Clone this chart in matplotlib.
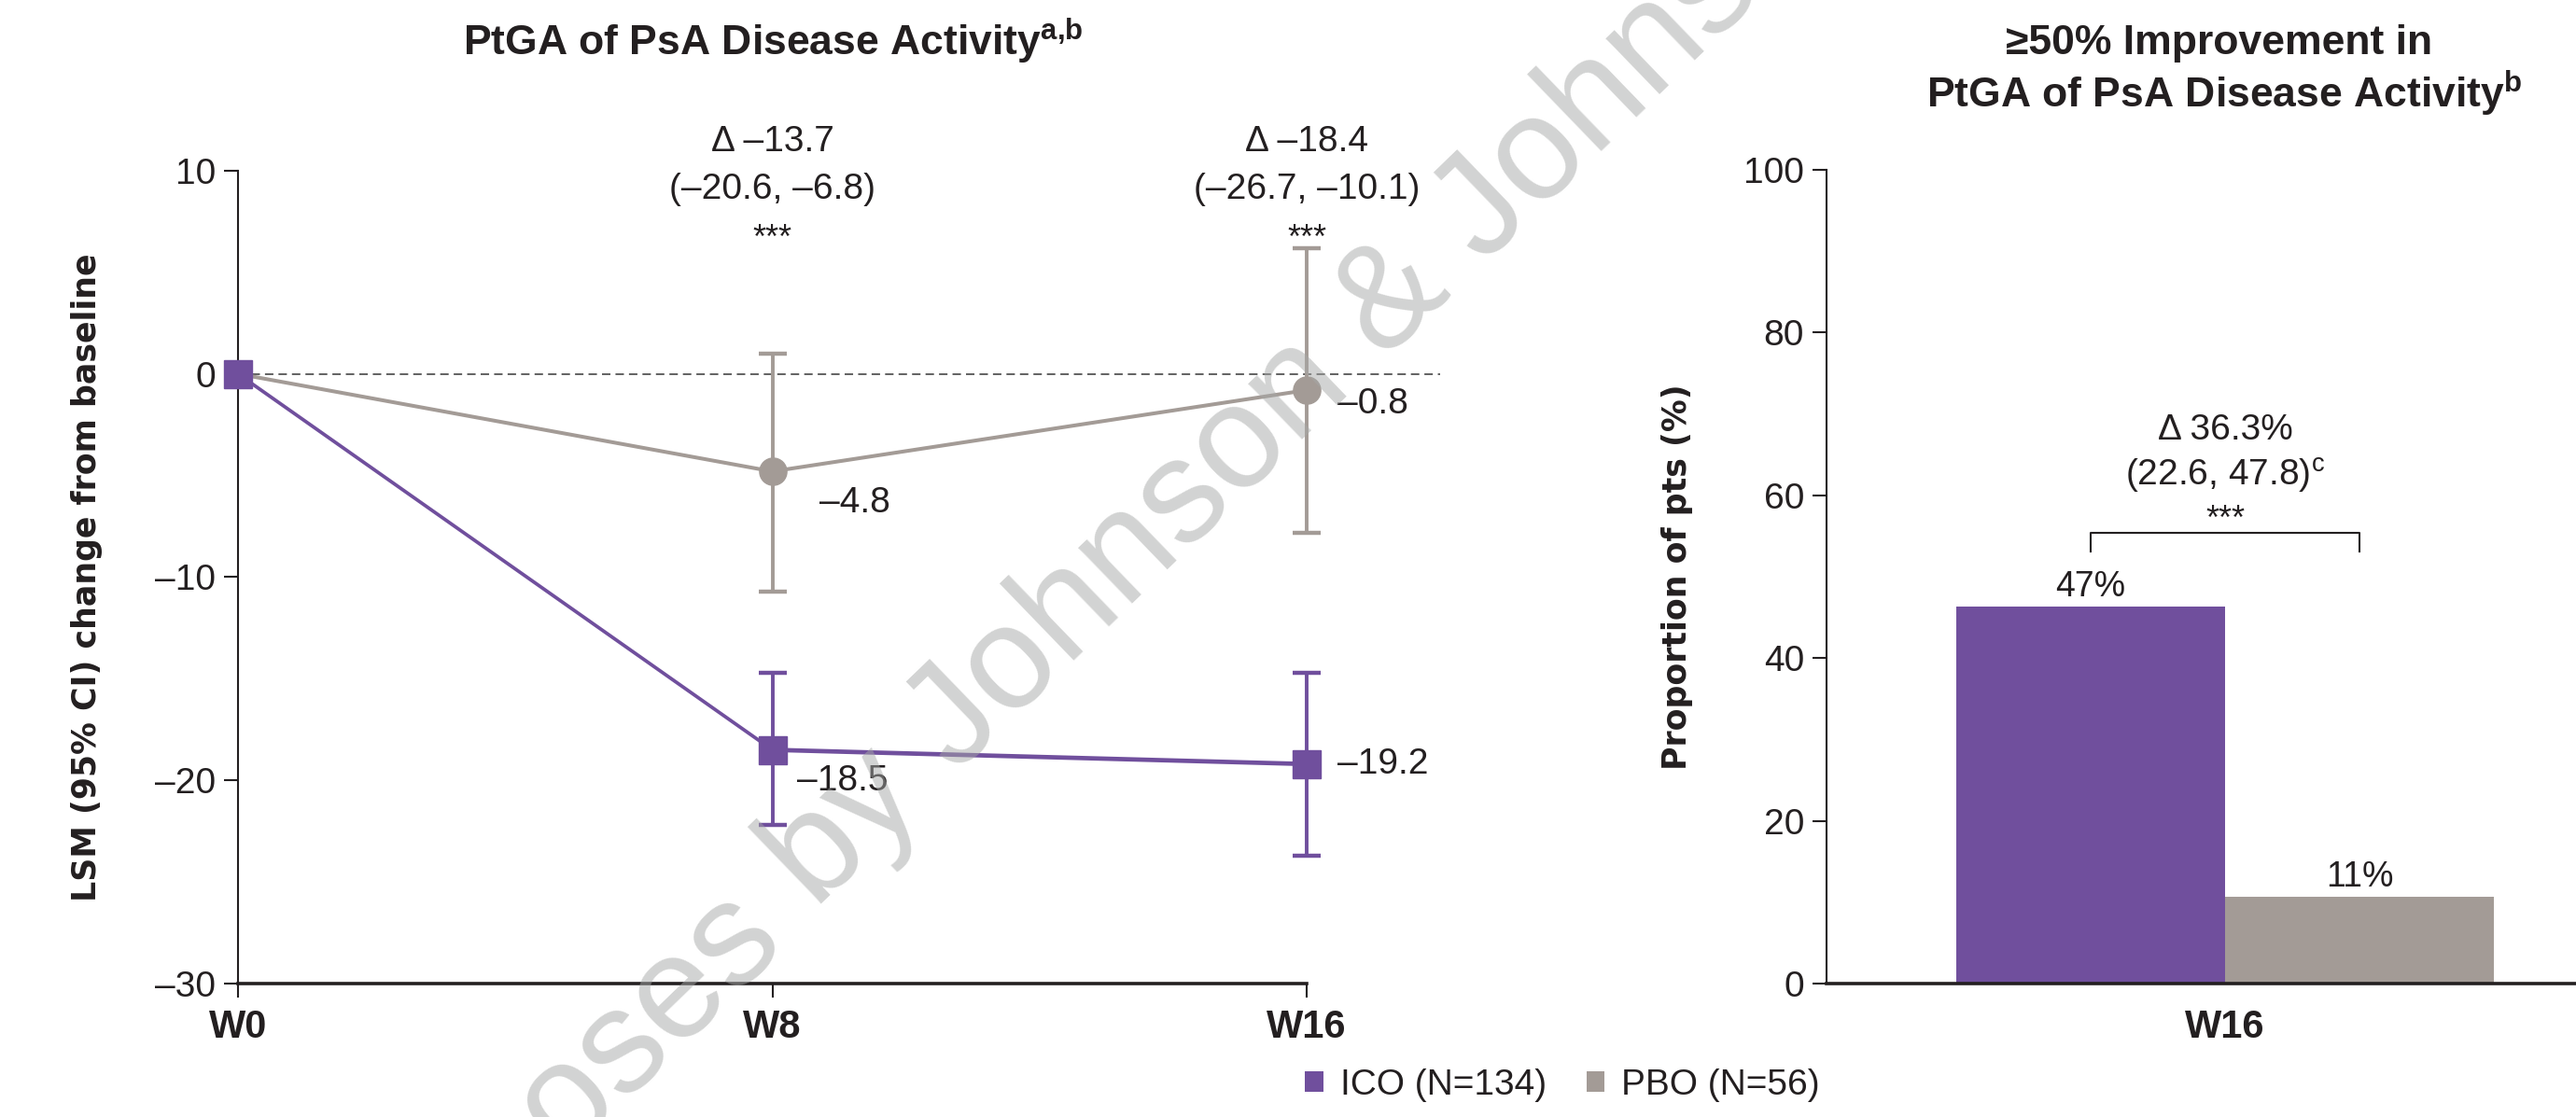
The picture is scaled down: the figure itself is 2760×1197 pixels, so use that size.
import numpy as np
import matplotlib.pyplot as plt

plt.rcParams['font.family'] = ['Liberation Sans', 'DejaVu Sans']
plt.rcParams['mathtext.fontset'] = 'custom'
plt.rcParams['mathtext.rm'] = 'Liberation Sans'
plt.rcParams['mathtext.bf'] = 'Liberation Sans:bold'

PURPLE = '#704f9d'
GREY = '#a39b96'
INK = '#231f20'

# donnees - LSM (IC 95%) variation depuis baseline
weeks = [0, 8, 16]
week_labels = ['W0', 'W8', 'W16']
ico_lsm = [0, -18.5, -19.2]
ico_ci_low = [0, -22.2, -23.7]
ico_ci_high = [0, -14.7, -14.7]
pbo_lsm = [0, -4.8, -0.8]
pbo_ci_low = [0, -10.7, -7.8]
pbo_ci_high = [0, 1.0, 6.2]
delta_lines = ['Δ –13.7', 'Δ –18.4']
delta_ci = ['(–20.6, –6.8)', '(–26.7, –10.1)']

# donnees - reponse >=50%
groups = ['ICO (N=134)', 'PBO (N=56)']
resp_pct = [46.3, 10.7]
resp_labels = ['47%', '11%']
resp_delta = 'Δ 36.3%'
resp_ci = '(22.6, 47.8)$^{\\mathregular{c}}$'


def dash(v):
    return ('%g' % v).replace('-', '–')


fig = plt.figure(figsize=(27.6, 11.97), dpi=100)
ax1 = fig.add_axes([0.0924, 0.1195, 0.4667, 0.7277])
ax2 = fig.add_axes([0.7091, 0.1195, 0.2909, 0.7285])

# ---- graphe de gauche
ax1.set_xlim(0, 18)
ax1.set_ylim(-30, 10)
ax1.axhline(0, color='#555555', lw=1.3, dashes=(5, 3), zorder=1)

ax1.plot(weeks, pbo_lsm, color=GREY, lw=2.9, marker='o', ms=21, zorder=3, clip_on=False)
ax1.errorbar(weeks[1:], pbo_lsm[1:],
             yerr=[np.array(pbo_lsm[1:]) - np.array(pbo_ci_low[1:]),
                   np.array(pbo_ci_high[1:]) - np.array(pbo_lsm[1:])],
             fmt='none', ecolor=GREY, elinewidth=2.8, capsize=10.8, capthick=3.2, zorder=2)
# ICO : segment W0-W8 plus fin que W8-W16
ax1.plot(weeks[:2], ico_lsm[:2], color=PURPLE, lw=2.7, zorder=5, solid_capstyle='butt')
ax1.plot(weeks[1:], ico_lsm[1:], color=PURPLE, lw=3.4, zorder=5)
ax1.plot(weeks, ico_lsm, color=PURPLE, ls='none', marker='s', ms=21, zorder=6, clip_on=False)
ax1.errorbar(weeks[1:], ico_lsm[1:],
             yerr=[np.array(ico_lsm[1:]) - np.array(ico_ci_low[1:]),
                   np.array(ico_ci_high[1:]) - np.array(ico_lsm[1:])],
             fmt='none', ecolor=PURPLE, elinewidth=2.8, capsize=10.8, capthick=3.2, zorder=4)

# etiquettes des points
ax1.annotate(dash(pbo_lsm[1]), (weeks[1], pbo_lsm[1]), xytext=(36, -24), textcoords='offset points',
             ha='left', va='center', fontsize=28, color=INK)
ax1.annotate(dash(pbo_lsm[2]), (weeks[2], pbo_lsm[2]), xytext=(24, -11), textcoords='offset points',
             ha='left', va='center', fontsize=28, color=INK)
ax1.annotate(dash(ico_lsm[1]), (weeks[1], ico_lsm[1]), xytext=(19, -24), textcoords='offset points',
             ha='left', va='center', fontsize=28, color=INK)
ax1.annotate(dash(ico_lsm[2]), (weeks[2], ico_lsm[2]), xytext=(24, 0), textcoords='offset points',
             ha='left', va='center', fontsize=28, color=INK)

for w, d, ci in zip(weeks[1:], delta_lines, delta_ci):
    ax1.text(w, 10.98, d, ha='center', va='baseline', fontsize=28, color=INK, clip_on=False)
    ax1.text(w, 8.63, ci, ha='center', va='baseline', fontsize=28, color=INK, clip_on=False)
    ax1.text(w, 6.2, '***', ha='center', va='baseline', fontsize=26, color=INK, clip_on=False)

ax1.spines['top'].set_visible(False)
ax1.spines['right'].set_visible(False)
ax1.spines['bottom'].set_bounds(0, 16)
ax1.spines['left'].set_linewidth(1.5)
ax1.spines['bottom'].set_linewidth(2.6)
ax1.spines['left'].set_color(INK)
ax1.spines['bottom'].set_color(INK)

yt = [-30, -20, -10, 0, 10]
ax1.set_yticks(yt)
ax1.set_yticklabels([dash(v) for v in yt])
ax1.set_xticks(weeks)
ax1.set_xticklabels(week_labels, fontweight='bold')
ax1.tick_params(axis='y', length=10.8, width=1.5, pad=6.5, labelsize=28, colors=INK)
ax1.tick_params(axis='x', length=10.8, width=1.5, pad=8.6, labelsize=30, colors=INK)
ax1.set_ylabel('LSM (95% CI) change from baseline', fontsize=25, fontweight='bold',
               family='DejaVu Sans', color=INK)
ax1.yaxis.set_label_coords(-0.1126, 0.5)

# ---- graphe de droite
bars = ax2.bar([-0.2, 0.2], resp_pct, width=0.4, color=[PURPLE, GREY])
ax2.bar_label(bars, labels=resp_labels, padding=2, fontsize=27, color=INK)
ax2.set_xlim(-0.593, 0.522)
ax2.set_ylim(0, 100)

ax2.plot([-0.2, -0.2, 0.2, 0.2], [53.1, 55.4, 55.4, 53.1], color=INK, lw=1.5)
ax2.text(0, 66.9, resp_delta, ha='center', va='baseline', fontsize=28, color=INK)
ax2.text(0, 61.2, resp_ci, ha='center', va='baseline', fontsize=28, color=INK)
ax2.text(0, 55.8, '***', ha='center', va='baseline', fontsize=26, color=INK)

ax2.spines['top'].set_visible(False)
ax2.spines['right'].set_visible(False)
ax2.spines['left'].set_linewidth(1.5)
ax2.spines['bottom'].set_linewidth(2.6)
ax2.spines['left'].set_color(INK)
ax2.spines['bottom'].set_color(INK)
ax2.set_yticks(range(0, 101, 20))
ax2.set_xticks([0])
ax2.set_xticklabels(['W16'], fontweight='bold')
ax2.tick_params(axis='y', length=10.8, width=1.5, pad=6.5, labelsize=28, colors=INK)
ax2.tick_params(axis='x', length=0, pad=19.5, labelsize=30, colors=INK)
ax2.set_ylabel('Proportion of pts (%)', fontsize=25, fontweight='bold',
               family='DejaVu Sans', color=INK)
ax2.yaxis.set_label_coords(-0.178, 0.5)

# titres
fig.text(0.300, 0.9507, 'PtGA of PsA Disease Activity$^{\\mathregular{a{,}b}}$',
         ha='center', va='baseline', fontsize=32, fontweight='bold', color=INK)
fig.text(0.8616, 1 - 58 / 1197, '≥50% Improvement in',
         ha='center', va='baseline', fontsize=32, fontweight='bold', color=INK)
fig.text(0.8634, 1 - 115 / 1197, 'PtGA of PsA Disease Activity$^{\\mathregular{b}}$',
         ha='center', va='baseline', fontsize=32, fontweight='bold', color=INK)

# legende
fig.legend(bars, groups, loc='center', bbox_to_anchor=(0.6065, 0.0284), ncol=2,
           frameon=False, fontsize=28, handlelength=0.5, handleheight=0.5,
           handletextpad=0.46, columnspacing=1.1, borderpad=0, labelcolor=INK)

# filigrane
ang = np.deg2rad(44)
ox, oy = 873, 975
sp = 0.278 * 157
fig.text(ox / 2760, 1 - oy / 1197, 'by Johnson & Johnson', rotation=44, rotation_mode='anchor',
         ha='left', va='baseline', fontsize=113, color='#a6a8a7', alpha=0.5, zorder=10)
fig.text((ox - sp * np.cos(ang)) / 2760, 1 - (oy + sp * np.sin(ang)) / 1197, 'purposes',
         rotation=44, rotation_mode='anchor', ha='right', va='baseline', fontsize=113,
         color='#a6a8a7', alpha=0.5, zorder=10)

fig.savefig('out.png', dpi=100)
